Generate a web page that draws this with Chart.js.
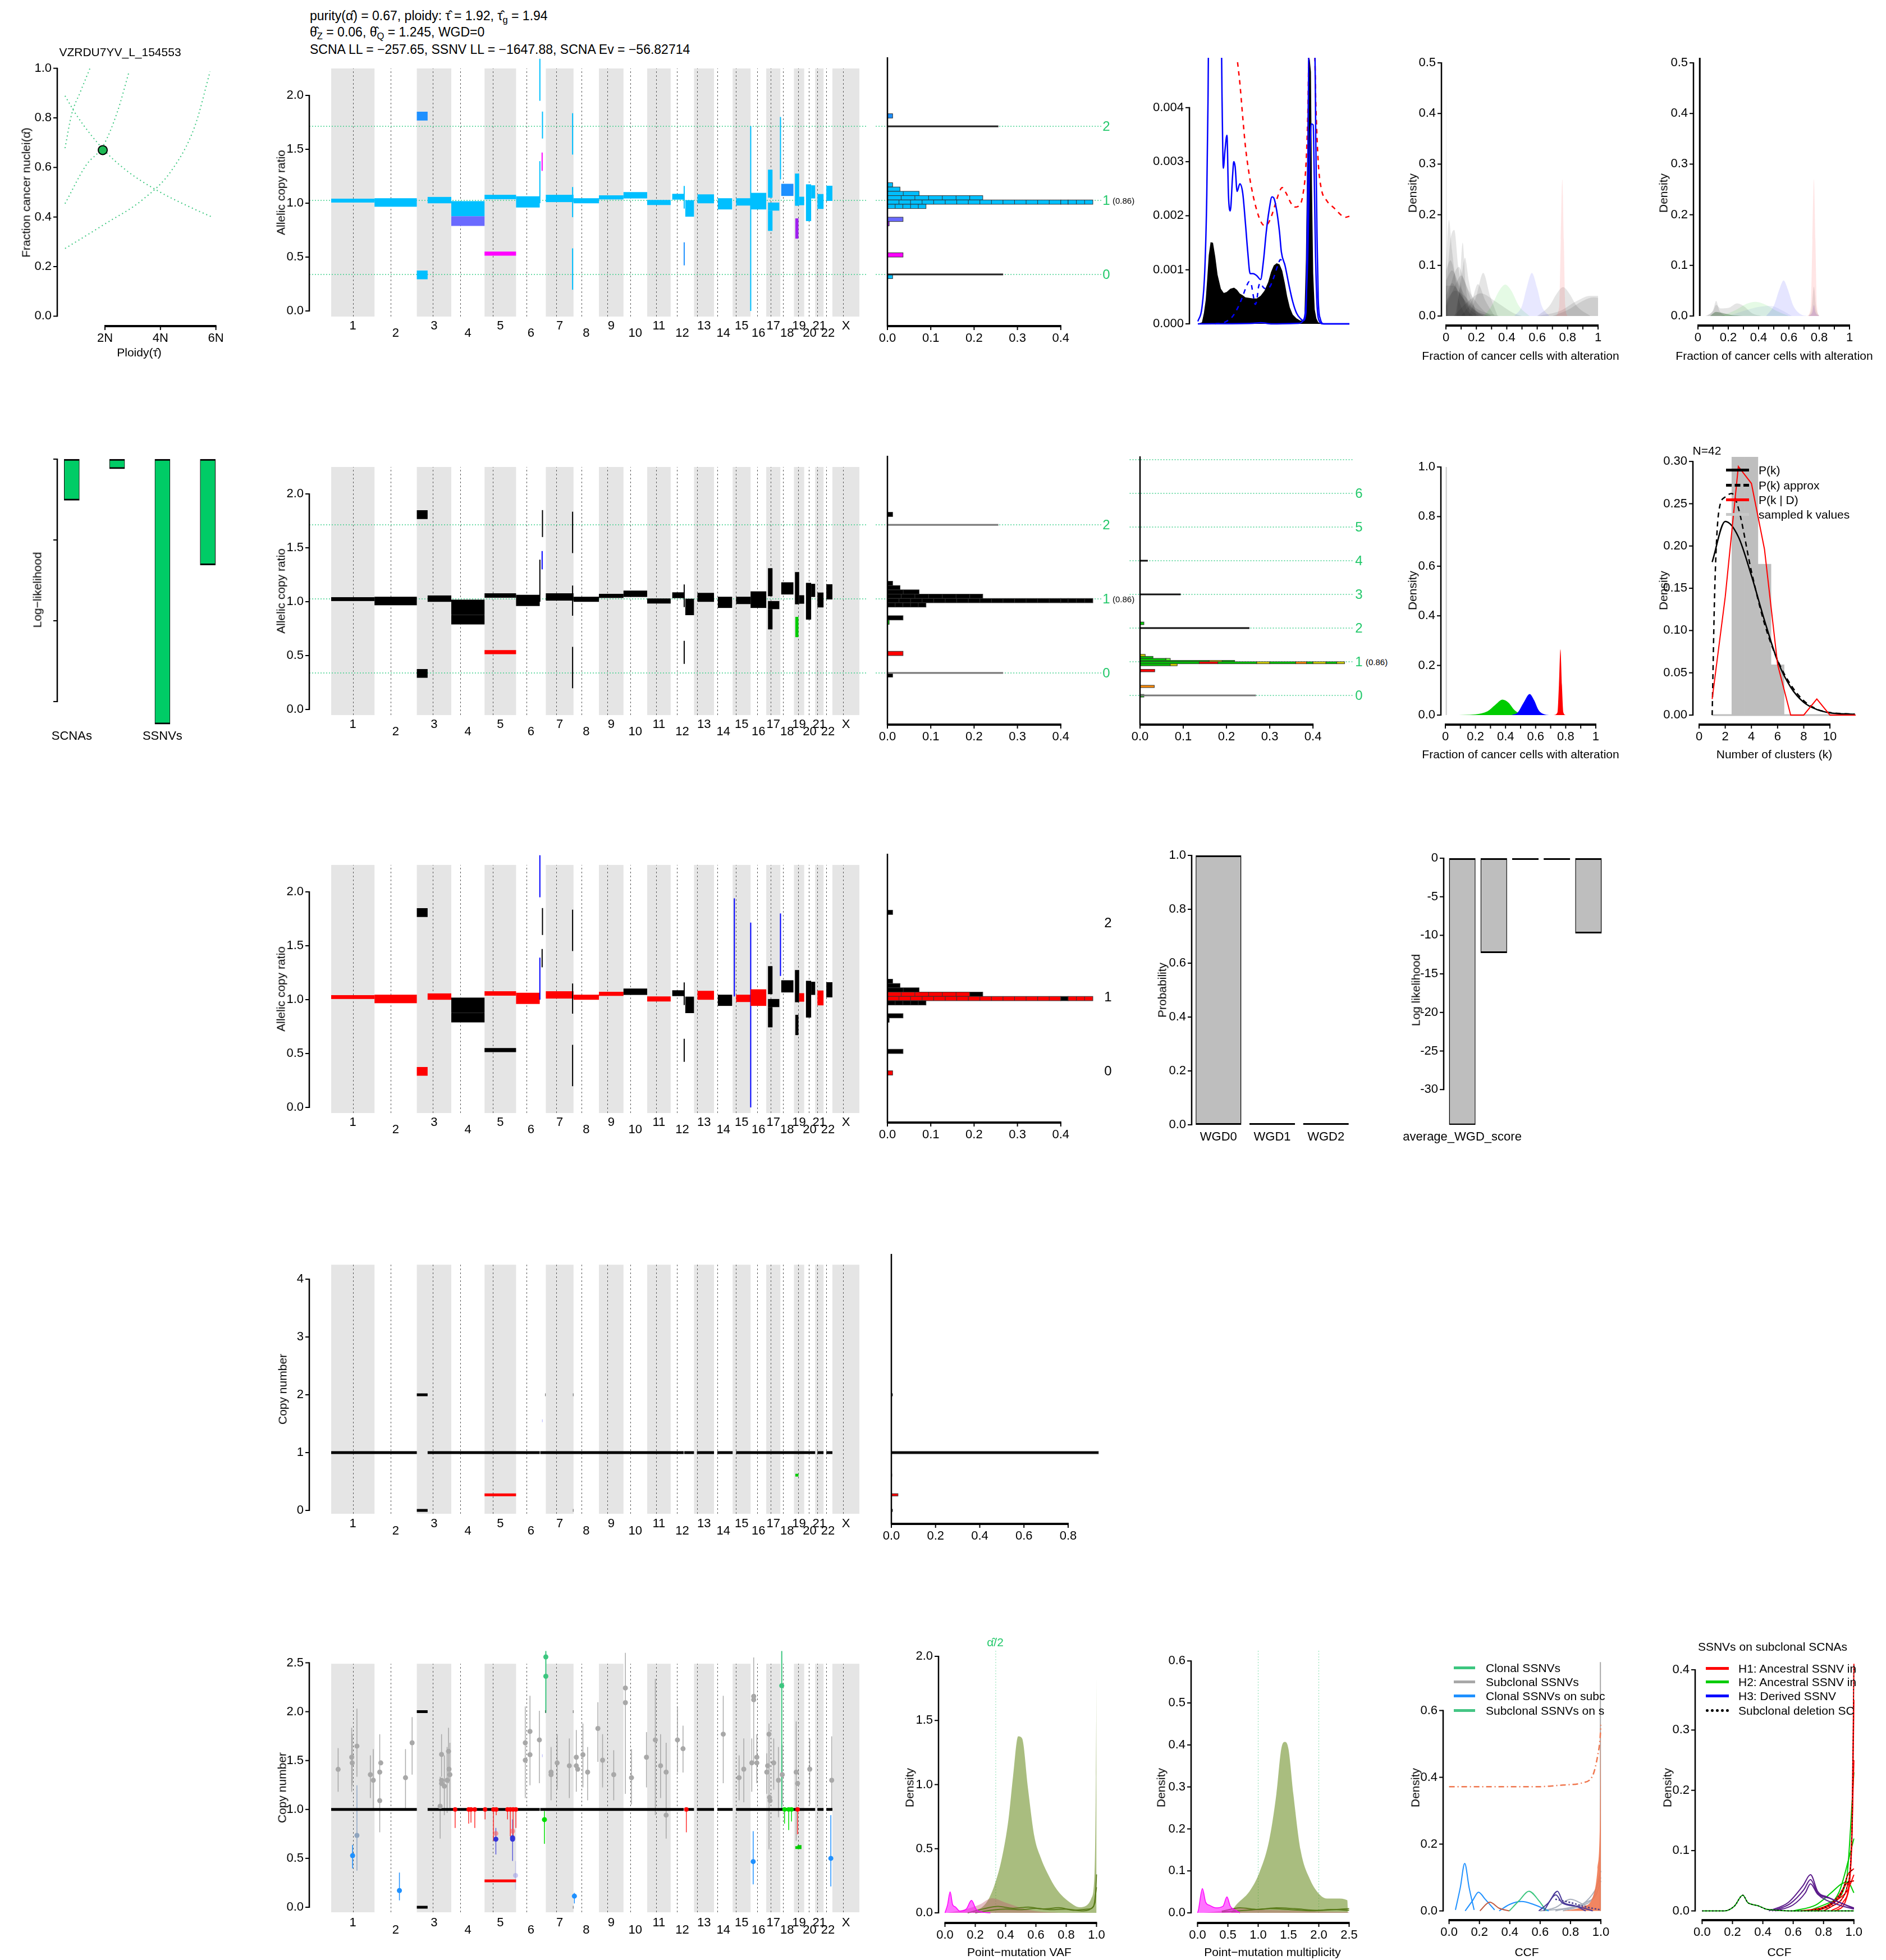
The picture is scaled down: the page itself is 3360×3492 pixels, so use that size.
<!DOCTYPE html>
<html>
<head>
<meta charset="utf-8">
<title>VZRDU7YV_L_154553</title>
<script src="https://cdn.jsdelivr.net/npm/chart.js@4.4.1/dist/chart.umd.min.js"></script>
<style>
  html, body { margin: 0; padding: 0; background: #fff; }
  body { position: relative; width: 3360px; height: 3492px; overflow: hidden;
         font-family: "Liberation Sans", Arial, sans-serif; color: #000; }
  canvas { position: absolute; }
  .t { position: absolute; white-space: nowrap; line-height: 1; }
  .t sub { font-size: 72%; vertical-align: -0.3em; }
  .key { position: absolute; height: 0; }
</style>
</head>
<body>
<script>
// ---------------- data ----------------

// genome layout (Mb)
const chromNames = ['1','2','3','4','5','6','7','8','9','10','11','12','13','14','15','16','17','18','19','20','21','22','X'];
const chromLen = [249,243,198,191,181,171,159,146,141,136,135,134,115,107,103,90,81,78,59,63,48,51,155];
const centromere = [125,93,91,50,48,61,60,45,49,40,53,35,18,18,19,37,24,17,26,28,13,15,60];

// purity / ploidy solution curves
const purityCurves = [
  [[0.56,0.889],[1.01,0.805],[1.94,0.673],[2.76,0.589],[3.90,0.506],[5.03,0.442],[5.86,0.40]],
  [[0.56,0.678],[0.80,0.815],[1.11,0.904],[1.46,1.0]],
  [[0.56,0.454],[1.32,0.609],[1.94,0.688],[2.45,0.825],[2.87,0.987]],
  [[0.56,0.273],[1.94,0.368],[3.38,0.472],[4.41,0.589],[5.24,0.766],[5.79,0.987]]
];
const fitPloidy = 1.92, fitPurity = 0.67;

// allelic copy-ratio segments: chr, start, end, low, high, state in rows 1..3
const acrSegments = [
  [1,0,249,1.006,1.042,'c','k','r'],
  [2,0,243,0.967,1.046,'c','k','r'],
  [3,0,62,1.767,1.849,'d','k','k'],
  [3,0,62,0.294,0.375,'c','k','r'],
  [3,62,198,0.999,1.058,'c','k','r'],
  [4,0,191,0.879,1.019,'c','k','k'],
  [4,0,191,0.789,0.879,'p','k','k'],
  [5,0,181,1.037,1.078,'c','k','r'],
  [5,0,181,0.513,0.551,'m','r','k'],
  [6,0,136,0.960,1.064,'c','k','r'],
  [6,136,137.5,1.95,2.34,'c','-','b'],
  [6,136,137.5,1.00,1.39,'c','k','b'],
  [6,151,152.5,1.60,1.85,'c','k','k'],
  [6,149,150.5,1.30,1.47,'m','b','k'],
  [7,0,159,1.010,1.078,'c','k','r'],
  [7,153,154.5,1.451,1.835,'c','k','k'],
  [7,153,154.5,0.197,0.581,'c','k','k'],
  [7,153,154.5,0.87,1.15,'c','k','k'],
  [8,0,146,0.999,1.046,'c','k','r'],
  [9,0,141,1.035,1.073,'c','k','r'],
  [10,0,136,1.044,1.103,'c','k','k'],
  [11,0,135,0.983,1.030,'c','k','r'],
  [12,9,75,1.033,1.087,'c','k','k'],
  [12,84,134,0.875,1.028,'c','k','k'],
  [12,77,78.5,0.423,0.637,'d','k','k'],
  [12,77,78.5,0.95,1.16,'c','k','k'],
  [13,20,115,0.999,1.082,'c','k','r'],
  [14,22,104,0.942,1.046,'c','k','k'],
  [15,20,103,0.978,1.046,'c','k','r'],
  [15,9,10.5,1.03,1.94,'-','-','b'],
  [16,0,1.5,0.0,1.715,'c','-','b'],
  [16,0,90,0.942,1.096,'c','k','r'],
  [17,10,36,1.051,1.311,'c','k','k'],
  [17,10,36,0.743,0.931,'c','k','k'],
  [17,10,75,0.931,1.006,'c','k','k'],
  [18,0,1.5,1.22,1.80,'c','-','b'],
  [18,5,75,1.067,1.180,'d','k','k'],
  [19,6,30,0.976,1.275,'c','k','k'],
  [19,30,59,0.981,1.060,'c','k','r'],
  [19,8,26,0.671,0.859,'v','g','k'],
  [20,10,40,0.834,1.175,'c','k','k'],
  [20,40,63,1.044,1.166,'c','k','k'],
  [21,13,48,0.947,1.085,'c','k','r'],
  [22,16,51,1.021,1.162,'c','k','k']
];
const acrLevels = [0.339, 1.026, 1.713];
const acrLevelNames = ['0', '1', '2'];
const level1Fraction = '(0.86)';

// copy-ratio histogram: low, high, from, to, segments, state rows 1..3
const acrHist = [
  [1.79,1.83,0,0.012,1,'d','k','k'],
  [1.15,1.19,0,0.012,1,'c','k','k'],
  [1.11,1.15,0,0.029,1,'c','k','k'],
  [1.07,1.11,0,0.073,2,'c','k','k'],
  [1.03,1.07,0,0.190,6,'c','k','r'],
  [1.03,1.07,0.190,0.220,1,'c','k','k'],
  [0.99,1.03,0,0.400,15,'c','k','r'],
  [0.99,1.03,0.400,0.417,1,'c','k','k'],
  [0.99,1.03,0.417,0.474,3,'c','k','r'],
  [0.95,0.99,0,0.089,5,'c','k','k'],
  [0.83,0.87,0,0.036,1,'p','k','k'],
  [0.79,0.83,0,0.004,1,'v','g','k'],
  [0.50,0.54,0,0.036,1,'m','r','k'],
  [0.30,0.34,0,0.012,1,'c','k','r']
];
const acrLevelBars = [[1.713,0.256],[0.339,0.267]];

// row-1 density panels
const dens1Ticks = [0,1,2,3,4];               // x 1e-3
const dens1Hist = [[0,0],[0.027,0.028],[0.040,0.20],[0.052,0.44],[0.062,0.84],[0.072,1.27],[0.084,1.51],[0.100,1.50],[0.115,1.24],[0.130,0.91],[0.152,0.65],[0.171,0.57],[0.190,0.59],[0.214,0.65],[0.239,0.67],[0.258,0.63],[0.277,0.56],[0.296,0.53],[0.314,0.49],[0.339,0.48],[0.364,0.47],[0.389,0.47],[0.414,0.52],[0.439,0.61],[0.464,0.77],[0.483,0.96],[0.501,1.08],[0.520,1.12],[0.539,1.10],[0.557,0.98],[0.574,0.75],[0.589,0.51],[0.607,0.30],[0.626,0.17],[0.651,0.10],[0.676,0.06],[0.695,0.06],[0.703,0.13],[0.713,1.20],[0.721,2.97],[0.728,4.87],[0.738,4.90],[0.746,4.66],[0.753,2.57],[0.761,0.94],[0.771,0.27],[0.782,0.10],[0.794,0.03],[0.813,0],[1,0]];
const dens1Blue = [[0,0.045],[0.027,0.30],[0.046,1.0],[0.059,2.38],[0.067,4.11],[0.071,5.2],[0.155,5.2],[0.160,4.11],[0.168,2.88],[0.179,3.21],[0.192,3.49],[0.202,2.38],[0.214,2.09],[0.229,2.73],[0.237,3.0],[0.246,2.91],[0.259,2.45],[0.277,2.59],[0.296,2.42],[0.314,1.86],[0.329,1.34],[0.345,0.93],[0.364,0.93],[0.389,0.89],[0.414,0.82],[0.433,1.17],[0.451,1.69],[0.470,2.10],[0.489,2.35],[0.501,2.33],[0.520,2.10],[0.539,1.69],[0.551,1.33],[0.576,1.07],[0.601,0.72],[0.626,0.41],[0.651,0.20],[0.676,0.10],[0.695,0.06],[0.713,0.20],[0.723,2.03],[0.729,4.11],[0.733,5.2],[0.772,5.2],[0.778,3.42],[0.786,1.69],[0.794,0.48],[0.807,0.10],[0.832,0],[1,0]];
const dens1Blue2 = [[0,0],[0.364,0.01],[0.414,0.02],[0.489,0],[0.663,0.01],[0.695,0.06],[0.713,0.37],[0.726,1.34],[0.738,3.07],[0.748,3.70],[0.761,3.68],[0.768,2.73],[0.776,1.34],[0.786,0.37],[0.800,0.06],[0.825,0],[1,0]];
const dens1BlueDash = [[0.115,0],[0.177,0.03],[0.227,0.13],[0.264,0.30],[0.296,0.51],[0.320,0.69],[0.339,0.78],[0.352,0.74],[0.364,0.55],[0.379,0.36],[0.389,0.44],[0.401,0.69],[0.414,0.75],[0.433,0.67],[0.451,0.65],[0.476,0.69],[0.501,0.86],[0.526,1.07],[0.545,1.19],[0.564,1.13]];
const dens1RedDash = [[0.262,4.84],[0.277,4.46],[0.296,3.83],[0.314,3.28],[0.339,2.76],[0.364,2.38],[0.389,2.10],[0.414,1.90],[0.439,1.82],[0.464,1.86],[0.489,2.02],[0.514,2.24],[0.539,2.45],[0.557,2.52],[0.582,2.42],[0.613,2.24],[0.638,2.16],[0.670,2.19],[0.695,2.42],[0.713,2.93],[0.726,3.94],[0.734,5.2],[0.769,5.2],[0.778,4.11],[0.794,3.0],[0.813,2.52],[0.850,2.28],[0.900,2.14],[0.950,2.0],[0.969,1.97],[1,1.99]];

const fracTicks = [0,0.1,0.2,0.3,0.4,0.5,0.6,0.7,0.8,0.9,1];
const fracTickLabels = ['0','','0.2','','0.4','','0.6','','0.8','','1'];
const ccfGray = [
  [[0,0.48],[0.004,0.3],[0.008,0.05],[0.015,0]],
  [[0,0.1],[0.02,0.19],[0.04,0.13],[0.08,0.04],[0.13,0]],
  [[0,0.05],[0.03,0.15],[0.055,0.17],[0.08,0.1],[0.13,0.02],[0.18,0]],
  [[0.07,0],[0.09,0.06],[0.11,0.145],[0.13,0.06],[0.16,0]],
  [[0.06,0],[0.1,0.07],[0.125,0.115],[0.15,0.07],[0.2,0]],
  [[0,0.02],[0.05,0.08],[0.085,0.097],[0.12,0.07],[0.2,0.01],[0.25,0]],
  [[0,0.04],[0.04,0.065],[0.08,0.05],[0.15,0.02],[0.25,0]],
  [[0,0.02],[0.06,0.06],[0.1,0.08],[0.15,0.05],[0.25,0.01],[0.3,0]],
  [[0,0.06],[0.05,0.06],[0.1,0.04],[0.2,0.01],[0.3,0]],
  [[0,0.07],[0.04,0.09],[0.09,0.06],[0.18,0.015],[0.28,0]],
  [[0,0.03],[0.06,0.05],[0.12,0.04],[0.2,0.015],[0.35,0]],
  [[0,0.09],[0.03,0.11],[0.07,0.07],[0.14,0.02],[0.22,0]],
  [[0.1,0],[0.17,0.03],[0.21,0.063],[0.26,0.03],[0.32,0]],
  [[0.15,0],[0.2,0.04],[0.245,0.085],[0.29,0.04],[0.34,0]],
  [[0.05,0],[0.15,0.03],[0.23,0.045],[0.32,0.03],[0.45,0.005],[0.5,0]],
  [[0.6,0],[0.68,0.02],[0.73,0.045],[0.77,0.057],[0.81,0.045],[0.86,0.02],[0.95,0]],
  [[0.6,0],[0.75,0.01],[0.85,0.028],[0.95,0.04],[1.0,0.04]],
  [[0.7,0],[0.8,0.012],[0.9,0.03],[0.97,0.037],[1.0,0.036]]
];
const ccfPink = [[0.72,0],[0.745,0.02],[0.755,0.15],[0.765,0.27],[0.775,0.15],[0.785,0.02],[0.80,0]];
const ccfBlue = [[0.45,0],[0.50,0.02],[0.53,0.055],[0.565,0.085],[0.60,0.055],[0.63,0.02],[0.68,0]];
const ccfGreen = [[0.25,0],[0.30,0.02],[0.35,0.05],[0.39,0.062],[0.43,0.05],[0.48,0.02],[0.55,0]];
const ccf2Gray = [
  [[0.06,0],[0.1,0.012],[0.12,0.03],[0.14,0.012],[0.18,0]],
  [[0.05,0],[0.1,0.01],[0.12,0.022],[0.15,0.015],[0.2,0.016],[0.26,0.025],[0.3,0.02],[0.36,0.005],[0.42,0]],
  [[0.73,0],[0.75,0.015],[0.765,0.058],[0.78,0.015],[0.8,0]]
];
const ccf2Green = [[0.15,0],[0.25,0.012],[0.32,0.024],[0.38,0.028],[0.45,0.022],[0.52,0.01],[0.6,0]];
const ccf2Steel = [[0.2,0],[0.3,0.01],[0.4,0.018],[0.48,0.02],[0.55,0.012],[0.62,0]];
const ccf2Blue = [[0.45,0],[0.50,0.02],[0.54,0.055],[0.565,0.07],[0.59,0.055],[0.63,0.02],[0.68,0.003],[0.72,0]];
const ccf2Purple = [[0.73,0],[0.755,0.008],[0.765,0.022],[0.775,0.008],[0.8,0]];
const ccf2Dark = [[0.08,0],[0.12,0.008],[0.16,0.006],[0.22,0.002],[0.3,0]];

// row 2
const llCategories = ['SCNAs', '', 'SSNVs', ''];
const llValues = [-0.51, -0.12, -3.28, -1.31];

// multiplicity histogram (levels): low, high, from, to, state
const multLevels = [0,1,2,3,4,5,6,7];
const multLevelNames = ['0','1','2','3','4','5','6'];
const multHist = [
  [1.16,1.22,0,0.012,'y'],[1.10,1.16,0,0.030,'g'],[1.04,1.10,0,0.060,'g'],[1.04,1.10,0.060,0.070,'l'],
  [1.00,1.04,0,0.160,'g'],[1.00,1.04,0.160,0.190,'y'],[1.00,1.04,0.190,0.219,'g'],
  [0.94,1.00,0,0.137,'g'],[0.94,1.00,0.137,0.180,'r'],[0.94,1.00,0.180,0.270,'g'],[0.94,1.00,0.270,0.300,'y'],
  [0.94,1.00,0.300,0.360,'g'],[0.94,1.00,0.360,0.385,'o'],[0.94,1.00,0.385,0.400,'g'],[0.94,1.00,0.400,0.430,'y'],
  [0.94,1.00,0.430,0.455,'g'],[0.94,1.00,0.455,0.473,'y'],
  [0.88,0.94,0,0.070,'g'],[0.88,0.94,0.070,0.086,'y'],
  [0.70,0.775,0,0.034,'r'],[0.233,0.30,0,0.033,'o'],[-0.05,0.03,0,0.009,'g'],[2.10,2.18,0,0.009,'g']
];
const multLevelBars = [[2,0.253],[0,0.268],[3,0.094],[4,0.018]];

const subGreen = [[0.05,0],[0.2,0.003],[0.28,0.015],[0.33,0.04],[0.38,0.062],[0.42,0.05],[0.46,0.02],[0.5,0.005],[0.55,0]];
const subBlue = [[0.44,0],[0.48,0.01],[0.52,0.05],[0.56,0.085],[0.59,0.06],[0.62,0.02],[0.66,0.003],[0.7,0]];
const subRed = [[0.72,0],[0.745,0.01],[0.755,0.12],[0.765,0.265],[0.775,0.12],[0.785,0.01],[0.8,0]];

const kSamples = 42;
const kBars = [[3,0.33],[4,0.31],[5,0.1786],[6,0.0595]];
const pK = [[1,0.181],[2,0.229],[3,0.211],[4,0.165],[5,0.112],[6,0.064],[7,0.033],[8,0.015],[9,0.0066],[10,0.0027],[11.9,0.001]];
const pKApprox = [[1,0],[1.2,0.15],[1.5,0.24],[2,0.258],[2.5,0.262],[3,0.245],[4,0.17],[5,0.108],[6,0.065],[7,0.036],[8,0.017],[9,0.007],[10,0.003],[11.9,0.001]];
const pKData = [[1,0.019],[2,0.14],[3,0.294],[4,0.274],[5,0.196],[6,0.06],[7,0],[8,0],[9,0.019],[10,0],[11,0],[12,0]];

// row 3
const wgdCategories = ['WGD0', 'WGD1', 'WGD2'];
const wgdProb = [1, 0, 0];
const wgdScoreCategories = ['average_WGD_score', '', '', '', ''];
const wgdScore = [-34.6, -12.3, -0.1, -0.1, -9.76];

// copy-number segments (rows 4-5): chr, start, end, copy number, state
const cnSegments = [
  [1,0,249,1,'k'],[2,0,243,1,'k'],[3,0,62,2,'k'],[3,0,62,0,'k'],[3,62,198,1,'k'],[4,0,191,1,'k'],
  [5,0,181,1,'k'],[5,0,181,0.27,'r'],[6,0,136,1,'k'],[6,139,171,1,'k'],[6,168,170,2,'k'],[6,150,151,1.55,'b'],
  [7,0,159,1,'k'],[7,156,158,2,'k'],[7,156,158,0,'k'],[8,0,146,1,'k'],[9,0,141,1,'k'],[10,0,136,1,'k'],
  [11,0,135,1,'k'],[12,0,75,1,'k'],[12,78,134,1,'k'],[12,76,77,0,'k'],[13,17,115,1,'k'],[14,19,107,1,'k'],
  [15,20,103,1,'k'],[16,0,90,1,'k'],[17,0,81,1,'k'],[18,0,78,1,'k'],[19,0,59,1,'k'],[19,8,26,0.61,'g'],
  [20,0,63,1,'k'],[21,13,48,1,'k'],[22,16,51,1,'k']
];
const cnHist = [[0.98,1.02,0.937,'k'],[0.25,0.29,0.03,'r'],[1.98,2.02,0.005,'k'],[-0.02,0.02,0.005,'k'],[0.59,0.63,0.002,'g']];

// SSNVs: genome Mb, copy number, low, high
const ssnvGray = [
  [40,1.410,1.181,1.628],[118,1.534,1.181,1.835],[121,1.476,1.247,1.770],[148,1.648,1.334,2.031],
  [225,1.356,1.116,1.552],[242,1.299,1.007,1.617],[279,1.382,0.767,1.770],[279,1.090,null,null],
  [285,1.476,null,null],[427,1.325,1.007,1.617],[465,1.682,1.356,1.944],[626,1.033,0.702,1.334],
  [634,1.563,1.334,1.770],[634,1.299,null,null],[634,1.266,null,null],[650,1.238,0.942,1.552],
  [666,1.299,0.964,1.639],[674,1.595,1.268,1.835],[677,1.412,null,null],[682,1.356,1.007,1.682],
  [1115,1.682,1.116,2.053],[1115,1.504,null,null],[1142,1.798,1.247,2.162],[1142,1.560,null,null],
  [1196,1.711,1.268,2.009],[1263,1.382,1.094,1.639],[1263,1.356,null,null],[1298,1.476,1.203,1.770],
  [1368,1.447,1.116,1.726],[1408,1.534,1.181,1.813],[1408,1.447,null,null],[1416,1.412,null,null],
  [1446,1.560,1.225,1.879],[1473,1.382,1.094,1.639],[1532,1.828,1.486,2.096],[1559,1.504,1.225,1.770],
  [1623,1.356,1.094,1.606],[1690,2.242,1.160,2.602],[1690,2.092,null,null],[1725,1.325,1.051,1.617],
  [1811,1.534,1.225,1.791],[1862,1.711,0.942,2.336],[1892,1.447,1.116,1.770],[1924,1.382,0.702,1.682],
  [1924,0.942,null,null],[1989,1.711,1.377,2.053],[2021,1.621,1.377,1.857],[2252,1.770,1.268,2.162],
  [2343,1.325,1.094,1.552],[2370,1.412,1.073,1.726],[2416,1.476,1.181,1.726],[2427,2.157,1.465,2.554],
  [2427,2.122,null,null],[2445,1.534,1.268,1.770],[2445,1.476,null,null],[2502,1.382,1.160,1.574],
  [2507,1.447,null,null],[2515,1.770,0.593,1.879],[2518,1.123,null,null],[2521,1.090,null,null],
  [2542,1.476,1.203,1.726],[2569,1.299,0.920,1.639],[2591,1.356,1.051,1.661],[2671,1.382,0.680,1.900],
  [2679,1.266,null,null],[2749,1.412,1.051,1.726],[2875,1.299,1.007,1.748]
];
const ssnvSlate = [[148,0.735,0.375,1.247]];
const ssnvBlue = [[123,0.528,0.397,0.637],[392,0.171,0.070,0.354],[1397,0.114,0.038,0.147],[2424,0.467,0.234,0.778],[2870,0.500,0.212,0.942]];
const ssnvDeep = [[946,0.696,0.539,0.811],[1042,0.696,0.473,0.898],[1042,0.71,null,null]];
const ssnvPink = [[946,0.754,null,null],[1042,0.778,null,null]];
const ssnvLilac = [[1059,0.325,0.179,0.473]];
const ssnvSea = [[1233,2.560,1.987,2.62],[1233,2.362,null,null],[2588,2.266,0.996,2.62]];
const ssnvLime = [[1225,0.896,0.648,0.985],[2690,0.615,null,null]];
const ssnvRedDrops = [[712,0.811],[790,0.855],[803,0.866],[825,0.811],[884,0.898],[932,0.680],[948,0.942],[1013,0.898],[1029,0.724],[1045,0.724],[1061,0.811],[2040,0.767],[2679,0.746]];
const ssnvGreenDrops = [[2604,0.855],[2628,0.789],[2644,0.877]];

// row 5 densities
const halfPurity = 0.335;
const vafOlive = [[0.184,0.014],[0.248,0.047],[0.291,0.114],[0.333,0.238],[0.376,0.430],[0.419,0.729],[0.449,1.061],[0.483,1.376],[0.509,1.360],[0.547,0.978],[0.590,0.595],[0.632,0.430],[0.675,0.313],[0.739,0.180],[0.825,0.081],[0.889,0.044],[0.932,0.056],[0.966,0.114],[0.987,0.313],[0.996,1.061],[1.0,1.84]];
const vafRosy = [[0.013,0],[0.141,0.03],[0.226,0.063],[0.312,0.114],[0.397,0.081],[0.526,0.031],[0.654,0.006],[0.75,0]];
const vafMagenta = [[0,0],[0.017,0.063],[0.034,0.164],[0.051,0.063],[0.068,0.047],[0.098,0.014],[0.141,0.03],[0.175,0.097],[0.205,0.03],[0.248,0.006],[0.3,0]];
const vafDark = [
  [[0.15,0],[0.25,0.03],[0.35,0.05],[0.45,0.035],[0.55,0.045],[0.65,0.03],[0.75,0.04],[0.85,0.02],[0.95,0.03],[0.99,0.08],[1.0,0.3]],
  [[0.2,0],[0.3,0.02],[0.4,0.03],[0.5,0.025],[0.6,0.035],[0.7,0.025],[0.8,0.03],[0.9,0.015],[0.98,0.05],[1.0,0.2]]
];
const multLines = [1, 2];
const multOlive = [[0.55,0],[0.62,0.016],[0.86,0.052],[1.02,0.096],[1.18,0.172],[1.30,0.283],[1.38,0.39],[1.44,0.407],[1.50,0.39],[1.58,0.283],[1.70,0.149],[1.86,0.078],[2.02,0.043],[2.14,0.034],[2.30,0.034],[2.47,0.03],[2.48,0]];
const multMagenta = [[0,0],[0.014,0.007],[0.08,0.058],[0.135,0.025],[0.2,0.018],[0.3,0.012],[0.42,0.016],[0.485,0.038],[0.54,0.016],[0.62,0.007],[0.7,0]];
const multRosy = [[0.1,0],[0.4,0.005],[0.7,0.012],[1.0,0.008],[1.4,0.006],[1.8,0.004],[2.5,0.002]];
const multDark = [
  [[0.4,0.004],[0.7,0.012],[1.0,0.008],[1.3,0.012],[1.6,0.01],[2.0,0.006],[2.5,0.01]],
  [[0.4,0.002],[0.8,0.006],[1.2,0.01],[1.5,0.008],[1.9,0.005],[2.2,0.008],[2.5,0.006]]
];
const ssnvCcfBlue = [
  [[0.042,0.003],[0.074,0.070],[0.103,0.142],[0.132,0.070],[0.165,0.003]],
  [[0.106,0],[0.155,0.031],[0.194,0.056],[0.236,0.036],[0.30,0.003]],
  [[0.33,0],[0.397,0.019],[0.478,0.028],[0.559,0.019],[0.656,0]]
];
const ssnvCcfSea = [[0.397,0],[0.462,0.031],[0.526,0.059],[0.591,0.031],[0.64,0]];
const ssnvCcfBrown = [[0.203,0],[0.268,0.026],[0.33,0.008],[0.397,0]];
const ssnvCcfPurple = [
  [[0.591,0],[0.656,0.025],[0.714,0.059],[0.753,0.025],[0.818,0.017],[0.9,0]],
  [[0.624,0],[0.704,0.048],[0.745,0.024],[0.85,0.013],[0.946,0]]
];
const ssnvCcfGray = [
  [[0.6,0],[0.7,0.01],[0.8,0.035],[0.88,0.02],[0.95,0]],
  [[0.6,0],[0.8,0.01],[0.9,0.025],[0.97,0.05],[1.0,0.09]],
  [[0.7,0],[0.85,0.015],[0.95,0.04],[1.0,0.12]],
  [[0.75,0],[0.88,0.02],[0.96,0.06],[1.0,0.1]]
];
const ssnvCcfCoral = [[0.753,0],[0.882,0.013],[0.947,0.042],[0.978,0.126],[0.995,0.294],[1.0,0.574]];
const ssnvCcfDashDot = [[0,0.372],[0.591,0.372],[0.753,0.377],[0.882,0.384],[0.947,0.406],[0.978,0.462],[0.995,0.518],[1.0,0.557]];
const ssnvCcfSlate = [[0.7,0.035],[0.8,0.025],[0.9,0.012],[1.0,0.003]];
const subCcfGreen = [[0,0],[0.148,0.0001],[0.213,0.008],[0.268,0.026],[0.30,0.014],[0.326,0.011],[0.374,0.008],[0.42,0.003],[0.472,0.0015],[0.6,0],[1,0]];
const subCcfPurple = [
  [[0.44,0],[0.568,0.014],[0.665,0.042],[0.714,0.060],[0.762,0.032],[0.827,0.023],[0.924,0.012],[1.0,0.005]],
  [[0.46,0],[0.58,0.012],[0.67,0.035],[0.714,0.052],[0.76,0.03],[0.85,0.02],[1.0,0.004]],
  [[0.48,0],[0.6,0.01],[0.68,0.03],[0.714,0.045],[0.76,0.028],[0.9,0.01],[1.0,0.003]]
];
const subCcfRed = [
  [[0.8,0],[0.857,0.008],[0.922,0.02],[0.954,0.039],[0.987,0.132],[1.0,0.41]],
  [[0.75,0],[0.85,0.01],[0.92,0.03],[0.96,0.06],[1.0,0.07]],
  [[0.7,0],[0.82,0.008],[0.9,0.025],[0.95,0.045],[1.0,0.05]],
  [[0.85,0],[0.93,0.015],[0.97,0.05],[0.99,0.15],[1.0,0.35]],
  [[0.88,0],[0.95,0.02],[0.98,0.08],[1.0,0.25]],
  [[0.65,0],[0.8,0.006],[0.9,0.02],[0.96,0.035],[1.0,0.06]]
];
const subCcfGreenLines = [
  [[0.6,0],[0.75,0.01],[0.85,0.03],[0.92,0.045],[0.96,0.048],[1.0,0.03]],
  [[0.7,0],[0.85,0.015],[0.95,0.05],[1.0,0.23]],
  [[0.75,0],[0.9,0.03],[0.97,0.09],[1.0,0.12]]
];

// ---------------- drawing ----------------
const palette = { c: '#00BFFF', d: '#1E90FF', p: '#6A6AFF', m: '#FF00FF', v: '#A020F0', k: '#000000',
                  r: '#FF0000', g: '#00CC00', b: '#0000FF', y: '#D8D800', o: '#FF8C00', l: '#66FF33' };
Chart.defaults.font.family = '"Liberation Sans", Arial, sans-serif';
Chart.defaults.color = '#000';

const chromStart = [];
chromLen.reduce((acc, len, i) => { chromStart[i] = acc; return acc + len; }, 0);
const gpos = (c, mb) => chromStart[c - 1] + mb;
const chromMid = chromLen.map((len, i) => chromStart[i] + len / 2);
const chromTickLabels = chromNames.map((n, i) => (i % 2 === 0 ? n : ['', n]));
const f1 = v => v.toFixed(1), f2 = v => v.toFixed(2);

function axis(s, horiz, size) {
  const cfg = {
    type: s.type || 'linear',
    min: s.min, max: s.max,
    offset: !!s.offset,
    grid: { display: false, drawTicks: false },
    border: { display: false },
    ticks: {
      display: !!(s.ticks || s.type === 'category') && !s.hideLabels,
      autoSkip: false, maxRotation: 0, minRotation: 0,
      padding: s.pad ?? (horiz ? 9 : 10),
      font: { size: s.fs || 22, lineHeight: s.lh || 1.2 },
      color: '#000',
      callback: function (v, i) { return s.labels ? s.labels[i] : (s.fmt ? s.fmt(v) : this.getLabelForValue(v)); }
    },
    afterFit(sc) {
      if (horiz) sc.height = size; else sc.width = size;
      sc.paddingLeft = sc.paddingRight = sc.paddingTop = sc.paddingBottom = 0;
    }
  };
  if (s.ticks && s.type !== 'category') cfg.afterBuildTicks = sc => { sc.ticks = s.ticks.map(v => ({ value: v })); };
  return cfg;
}

// R style axis: line only between first and last tick, small outward tick marks
function rAxes(sx, sy) {
  return {
    id: 'rAxes',
    afterDraw(chart) {
      const { ctx, chartArea: a } = chart;
      const seg = (x0, y0, x1, y1) => { ctx.beginPath(); ctx.moveTo(x0, y0); ctx.lineTo(x1, y1); ctx.stroke(); };
      ctx.save();
      ctx.strokeStyle = '#000';
      if (sx && sx.line) {
        const s = chart.scales.x, y = a.bottom + (sx.off || 0);
        ctx.lineWidth = sx.lw || 4;
        seg(s.getPixelForValue(sx.line[0]) - 1, y, s.getPixelForValue(sx.line[1]) + 1, y);
        ctx.lineWidth = 2;
        if (sx.marks !== false) (sx.ticks || []).forEach(v => { const p = s.getPixelForValue(v); seg(p, y, p, y + 7); });
      }
      if (sy && sy.line) {
        const s = chart.scales.y, x = a.left + (sy.off || 0);
        ctx.lineWidth = sy.lw || 2.5;
        seg(x, s.getPixelForValue(sy.line[0]) + 1, x, s.getPixelForValue(sy.line[1]) - 1);
        ctx.lineWidth = 2;
        if (sy.marks !== false) (sy.ticks || []).forEach(v => { const p = s.getPixelForValue(v); seg(x, p, x - 7, p); });
      }
      ctx.restore();
    }
  };
}

// rectangles and guide lines placed through the chart scales
function paintItems(chart, items) {
  if (!items || !items.length) return;
  const { ctx, chartArea: a, scales: { x, y } } = chart;
  ctx.save();
  ctx.beginPath();
  ctx.rect(a.left, a.top, a.right - a.left, a.bottom - a.top);
  ctx.clip();
  for (const it of items) {
    if (it.kind === 'vline') {
      const px = Math.round(x.getPixelForValue(it.x)) + 0.5;
      ctx.strokeStyle = it.color; ctx.lineWidth = it.lw || 1; ctx.setLineDash(it.dash || []);
      ctx.beginPath(); ctx.moveTo(px, y.getPixelForValue(it.y0)); ctx.lineTo(px, y.getPixelForValue(it.y1)); ctx.stroke();
      ctx.setLineDash([]);
      continue;
    }
    const x0 = x.getPixelForValue(it.x0), x1 = x.getPixelForValue(it.x1);
    const y0 = y.getPixelForValue(it.y0), y1 = y.getPixelForValue(it.y1);
    let L = Math.min(x0, x1), w = Math.abs(x1 - x0);
    const T = Math.min(y0, y1), h = Math.abs(y1 - y0);
    if (it.minW && w < it.minW) { L -= (it.minW - w) / 2; w = it.minW; }
    if (it.fill) { ctx.fillStyle = it.fill; ctx.fillRect(L, T, w, h); }
    if (it.stroke) {
      ctx.strokeStyle = it.stroke; ctx.lineWidth = it.lw || 1;
      ctx.strokeRect(L, T, w, h);
      for (let k = 1; k < (it.cells || 1); k++) {
        const cx = L + w * k / it.cells;
        ctx.beginPath(); ctx.moveTo(cx, T); ctx.lineTo(cx, T + h); ctx.stroke();
      }
    }
  }
  ctx.restore();
}
const layers = (under, over) => ({
  id: 'layers',
  beforeDatasetsDraw(c) { paintItems(c, under); },
  afterDatasetsDraw(c) { paintItems(c, over); }
});

function panel(p) {
  const ML = p.ml ?? 110, MR = p.mr ?? 12, MT = p.mt ?? 14, MB = p.mb ?? 70;
  const cv = document.createElement('canvas');
  cv.width = p.r - p.l + ML + MR;
  cv.height = p.b - p.t + MT + MB;
  cv.style.left = (p.l - ML) + 'px';
  cv.style.top = (p.t - MT) + 'px';
  document.body.appendChild(cv);
  return new Chart(cv, {
    type: p.type || 'line',
    // first dataset is painted last, so list bottom layers first and flip
    data: { labels: p.labels, datasets: (p.datasets || []).slice().reverse() },
    options: {
      responsive: false,
      animation: false,
      devicePixelRatio: 1,
      layout: { autoPadding: false, padding: { left: 0, right: MR, top: MT, bottom: 0 } },
      elements: { point: { radius: 0 } },
      scales: { x: axis(p.x || {}, true, MB), y: axis(p.y || {}, false, ML) },
      plugins: { legend: { display: false }, tooltip: { enabled: false } }
    },
    plugins: [layers(p.under, p.over), rAxes(p.x, p.y)]
  });
}

const line = (pts, o) => Object.assign({
  data: pts.map(([x, y]) => ({ x, y })), pointRadius: 0, borderWidth: 2, fill: false,
  cubicInterpolationMode: 'monotone'
}, o);
const area = (pts, color, o) => line(pts, Object.assign({ fill: 'origin', backgroundColor: color, borderColor: 'rgba(0,0,0,0)', borderWidth: 0 }, o));
const straight = (pts, o) => line(pts, Object.assign({ cubicInterpolationMode: 'default', tension: 0 }, o));
const hLevel = (x0, x1, v) => straight([[x0, v], [x1, v]], { borderColor: '#3FD08C', borderWidth: 1.5, borderDash: [2, 3], clip: false });

// broken-line dataset: one sub path per item, separated by gaps
function pieces(list, toPts, o) {
  const data = [];
  list.forEach(it => { toPts(it).forEach(([x, y]) => data.push({ x, y })); data.push({ x: toPts(it)[0][0], y: null }); });
  return Object.assign({ data, pointRadius: 0, borderWidth: 2, fill: false, spanGaps: false, tension: 0 }, o);
}

function label(html, x, y, o = {}) {
  const d = document.createElement('div');
  d.className = 't';
  d.innerHTML = html;
  d.style.left = x + 'px';
  d.style.top = y + 'px';
  d.style.fontSize = (o.size || 21) + 'px';
  if (o.color) d.style.color = o.color;
  d.style.transform = 'translate(' + (o.left ? '0' : '-50%') + ',-50%)' + (o.rot ? ' rotate(-90deg)' : '');
  document.body.appendChild(d);
}
function key(x0, x1, y, color, style, w) {
  const d = document.createElement('div');
  d.className = 'key';
  d.style.left = x0 + 'px';
  d.style.width = (x1 - x0) + 'px';
  d.style.top = (y - w / 2) + 'px';
  d.style.borderTop = w + 'px ' + style + ' ' + color;
  document.body.appendChild(d);
}

function genomeUnder(lo, hi) {
  const items = [];
  chromLen.forEach((len, i) => { if (i % 2 === 0) items.push({ x0: chromStart[i], x1: chromStart[i] + len, y0: lo, y1: hi, fill: '#E5E5E5' }); });
  chromLen.forEach((len, i) => items.push({ kind: 'vline', x: chromStart[i] + centromere[i], y0: lo, y1: hi, color: '#555', dash: [3, 4], lw: 1 }));
  return items;
}
const genomeX = pad => ({ min: -125.7, max: 3079, ticks: chromMid, labels: chromTickLabels, pad, lh: '13px' });

// ---- header ----
label('purity(α̂) = 0.67, ploidy: τ̂ = 1.92, τ̂<sub>g</sub> = 1.94', 552, 31, { left: true, size: 23 });
label('θ̂<sub>Z</sub> = 0.06, θ̂<sub>Q</sub> = 1.245, WGD=0', 552, 60, { left: true, size: 23 });
label('SCNA LL = −257.65, SSNV LL = −1647.88, SCNA Ev = −56.82714', 552, 88, { left: true, size: 23 });

// ---- row 1: purity / ploidy ----
panel({ l: 102, r: 396, t: 104, b: 581,
  x: { min: 0.28, max: 6.23, ticks: [2, 4, 6], labels: ['2N', '4N', '6N'], line: [2, 6] },
  y: { min: -0.04, max: 1.04, ticks: [0, 0.2, 0.4, 0.6, 0.8, 1], fmt: f1, line: [0, 1] },
  datasets: [
    ...purityCurves.map(c => line(c, { borderColor: '#3CC77F', borderDash: [2, 5], borderWidth: 2 })),
    { data: [{ x: fitPloidy, y: fitPurity }], showLine: false, pointRadius: 8, pointBackgroundColor: '#1DB954', pointBorderColor: '#000', pointBorderWidth: 2 }
  ] });
label('VZRDU7YV_L_154553', 214, 92);
label('Fraction cancer nuclei(α̂)', 46, 343, { rot: true });
label('Ploidy(τ̂)', 248, 627);

// ---- rows 1-3: allelic copy ratio genome + histogram ----
[0, 710, 1419].forEach((dy, row) => {
  const rowLevels = row < 2;
  panel({ l: 551, r: 1545, t: 103 + dy, b: 564 + dy, mb: 60,
    x: genomeX(10.5),
    y: { min: -0.052, max: 2.349, ticks: [0, 0.5, 1, 1.5, 2], fmt: f1, line: [0, 2] },
    under: genomeUnder(-0.052, 2.25),
    over: acrSegments.filter(s => s[5 + row] !== '-').map(s => ({
      x0: gpos(s[0], s[1]), x1: gpos(s[0], s[2]), y0: s[3], y1: s[4], fill: palette[s[5 + row]], minW: 2 })),
    datasets: rowLevels ? acrLevels.map(v => hLevel(-125.7, 3079, v)) : [] });

  const bars = acrHist.map(h => ({ x0: h[2], x1: h[3], y0: h[0], y1: h[1], fill: palette[h[5 + row]], stroke: '#333', lw: 1, cells: h[4] }));
  if (rowLevels) acrLevelBars.forEach(([v, w]) => bars.push({ x0: 0, x1: w, y0: v - 0.008, y1: v + 0.008, fill: row === 0 ? '#222' : '#777' }));
  panel({ l: 1581, r: 1962, t: 103 + dy, b: 581 + dy,
    x: { min: 0, max: 0.4935, ticks: [0, 0.1, 0.2, 0.3, 0.4], fmt: f1, line: [0, 0.4] },
    y: { min: -0.1406, max: 2.349, line: [-0.1406, 2.349], marks: false },
    over: bars,
    datasets: rowLevels ? acrLevels.map(v => hLevel(-0.027, 0.4935, v)) : [] });

  const lc = rowLevels ? '#22C86A' : '#000';
  acrLevels.forEach((v, i) => {
    const py = 554 + dy - v * 192;
    label(acrLevelNames[i], rowLevels ? 1971 : 1974, py, { size: 24, color: lc });
    if (i === 1 && rowLevels) label(level1Fraction, 1982, py, { size: 15, left: true });
  });
  label('Allelic copy ratio', 500, 343 + dy, { rot: true });
});

// ---- row 1: density of copy ratio ----
panel({ l: 2119, r: 2410, t: 103, b: 592,
  x: { min: -0.0556, max: 1.022 },
  y: { min: -0.156, max: 4.922, ticks: dens1Ticks, fmt: v => (v / 1000).toFixed(3), line: [0, 4] },
  datasets: [
    area(dens1Hist, '#000', { cubicInterpolationMode: 'default' }),
    line(dens1BlueDash, { borderColor: '#0000FF', borderWidth: 2.5, borderDash: [8, 8] }),
    line(dens1RedDash, { borderColor: '#FF0000', borderWidth: 2.5, borderDash: [8, 8] }),
    line(dens1Blue2, { borderColor: '#0000FF', borderWidth: 2.5 }),
    line(dens1Blue, { borderColor: '#0000FF', borderWidth: 2.5 })
  ] });

// ---- row 1: CCF densities ----
panel({ l: 2568, r: 2855, t: 103, b: 580,
  x: { min: -0.0295, max: 1.0295, ticks: fracTicks, labels: fracTickLabels, line: [0, 1] },
  y: { min: -0.01885, max: 0.51, ticks: [0, 0.1, 0.2, 0.3, 0.4, 0.5], fmt: f1, line: [0, 0.5] },
  datasets: [
    ...ccfGray.map(c => area(c, 'rgba(0,0,0,0.1)')),
    area(ccfGreen, 'rgba(0,205,0,0.1)'),
    area(ccfBlue, 'rgba(0,0,255,0.09)'),
    area(ccfPink, 'rgba(255,0,0,0.1)')
  ] });
label('Density', 2516, 344, { rot: true });
label('Fraction of cancer cells with alteration', 2709, 633);

panel({ l: 3017, r: 3303, t: 103, b: 580,
  x: { min: -0.0296, max: 1.0296, ticks: fracTicks, labels: fracTickLabels, line: [0, 1] },
  y: { min: -0.01885, max: 0.51, ticks: [0, 0.1, 0.2, 0.3, 0.4, 0.5], fmt: f1, line: [0, 0.5] },
  datasets: [
    ...ccf2Gray.map(c => area(c, 'rgba(0,0,0,0.1)')),
    area(ccf2Green, 'rgba(0,205,0,0.1)'),
    area(ccf2Steel, 'rgba(70,110,200,0.1)'),
    area(ccf2Blue, 'rgba(0,0,255,0.1)'),
    area(ccfPink, 'rgba(255,0,0,0.1)'),
    area(ccf2Purple, 'rgba(90,0,170,0.15)'),
    area(ccf2Dark, 'rgba(0,60,0,0.3)'),
    straight([[0.012, 0], [0.012, 0.52]], { borderColor: '#000', borderWidth: 3 })
  ] });
label('Density', 2963, 344, { rot: true });
label('Fraction of cancer cells with alteration', 3161, 633);

// ---- row 2: log-likelihood bars ----
panel({ type: 'bar', l: 102, r: 396, t: 811, b: 1293,
  x: { min: 0.68, max: 4.32, ticks: [1, 2, 3, 4], labels: llCategories, pad: 6 },
  y: { min: -3.299, max: 0.0486, ticks: [0, -1, -2, -3], hideLabels: true, line: [-3, 0] },
  datasets: [{ data: llValues.map((v, i) => ({ x: i + 1, y: v })), backgroundColor: '#00CC66', borderColor: '#000',
    borderWidth: { top: 3, bottom: 3, left: 1, right: 1 }, borderSkipped: false, barThickness: 27 }] });
label('Log−likelihood', 66, 1051, { rot: true });

// ---- row 2: multiplicity histogram ----
{
  const bars = multHist.map(h => ({ x0: h[2], x1: h[3], y0: h[0], y1: h[1], fill: palette[h[4]], stroke: '#333', lw: 1 }));
  multLevelBars.forEach(([v, w]) => bars.push({ x0: 0, x1: w, y0: v - 0.025, y1: v + 0.025, fill: v === 0 ? '#777' : '#111' }));
  panel({ l: 2031, r: 2410, t: 814, b: 1291,
    x: { min: 0, max: 0.492, ticks: [0, 0.1, 0.2, 0.3, 0.4], fmt: f1, line: [0, 0.4] },
    y: { min: -0.867, max: 7.083, line: [-0.867, 7.083], marks: false },
    over: bars,
    datasets: multLevels.map(v => hLevel(-0.024, 0.492, v)) });
  multLevelNames.forEach((n, i) => label(n, 2421, 1239 - 60 * i, { size: 24, color: '#22C86A' }));
  label(level1Fraction, 2433, 1179, { size: 15, left: true });
}

// ---- row 2: subclonal density ----
panel({ l: 2567, r: 2855, t: 822, b: 1291,
  x: { min: -0.0299, max: 1.045, ticks: fracTicks, labels: fracTickLabels, line: [0, 1] },
  y: { min: -0.0385, max: 1.0226, ticks: [0, 0.2, 0.4, 0.6, 0.8, 1], fmt: f1, line: [0, 1] },
  datasets: [
    straight([[0.006, 0], [0.006, 1.0]], { borderColor: '#C8C8C8', borderWidth: 2 }),
    area(subGreen, '#00CC00'),
    area(subBlue, '#0000FF'),
    area(subRed, '#FF0000')
  ] });
label('Density', 2516, 1052, { rot: true });
label('Fraction of cancer cells with alteration', 2709, 1343);

// ---- row 2: number of clusters ----
panel({ l: 3016, r: 3306, t: 814, b: 1291,
  x: { min: -0.472, max: 11.97, ticks: [0, 2, 4, 6, 8, 10], fmt: v => String(v), line: [0, 10] },
  y: { min: -0.01129, max: 0.3054, ticks: [0, 0.05, 0.1, 0.15, 0.2, 0.25, 0.3], fmt: f2, line: [0, 0.3] },
  datasets: [
    { type: 'bar', data: kBars.map(([x, y]) => ({ x, y })), backgroundColor: '#BEBEBE', borderWidth: 0, barPercentage: 1, categoryPercentage: 1 },
    straight([[1, 0], [11.9, 0]], { borderColor: '#BEBEBE', borderWidth: 3 }),
    line(pKApprox, { borderColor: '#000', borderWidth: 2.5, borderDash: [9, 7] }),
    line(pK, { borderColor: '#000', borderWidth: 2.5 }),
    straight(pKData, { borderColor: '#FF0000', borderWidth: 2 })
  ] });
label('N=' + kSamples, 3041, 802);
label('Density', 2963, 1052, { rot: true });
label('Number of clusters (k)', 3161, 1343);
[['P(k)', '#000', 'solid'], ['P(k) approx', '#000', 'dashed'], ['P(k | D)', '#FF0000', 'solid'], ['sampled k values', '#C8C8C8', 'solid']]
  .forEach(([t, c, s], i) => { const y = [837, 864, 890, 916][i]; key(3075, 3116, y, c, s, 5); label(t, 3133, y, { left: true }); });

// ---- row 3: WGD ----
panel({ type: 'bar', l: 2123, r: 2410, t: 1518, b: 2004, labels: wgdCategories,
  x: { type: 'category', offset: true, pad: 9 },
  y: { min: 0, max: 1.0125, ticks: [0, 0.2, 0.4, 0.6, 0.8, 1], fmt: f1, line: [0, 1] },
  datasets: [{ data: wgdProb, backgroundColor: '#BEBEBE', borderColor: '#000', borderWidth: { top: 3, bottom: 3, left: 1.5, right: 1.5 },
    borderSkipped: false, barPercentage: 0.85, categoryPercentage: 1, minBarLength: 3 }] });
label('Probability', 2070, 1764, { rot: true });

panel({ type: 'bar', l: 2577, r: 2858, t: 1520, b: 2004, labels: wgdScoreCategories,
  x: { type: 'category', offset: true, pad: 9 },
  y: { min: -34.57, max: 0.655, ticks: [0, -5, -10, -15, -20, -25, -30], fmt: v => String(v), line: [-30, 0], off: -5, pad: 15 },
  datasets: [{ data: wgdScore, backgroundColor: '#BEBEBE', borderColor: '#000', borderWidth: { top: 3, bottom: 3, left: 1.5, right: 1.5 },
    borderSkipped: false, barPercentage: 0.84, categoryPercentage: 1, minBarLength: 3 }] });
label('Log likelihood', 2522, 1764, { rot: true });

// ---- rows 4-5: copy number ----
const cnLines = (w) => ['k', 'r', 'g', 'b'].map(cat => pieces(cnSegments.filter(s => s[4] === cat),
  s => [[gpos(s[0], s[1]), s[3]], [gpos(s[0], s[2]), s[3]]], { borderColor: palette[cat], borderWidth: w, borderCapStyle: 'butt' }));

panel({ l: 551, r: 1545, t: 2235, b: 2697, mb: 60,
  x: genomeX(11.5),
  y: { min: -0.058, max: 4.427, ticks: [0, 1, 2, 3, 4], fmt: v => String(v), line: [0, 4] },
  under: genomeUnder(-0.058, 4.25),
  datasets: cnLines(5) });
label('Copy number', 503, 2475, { rot: true });

panel({ l: 1588, r: 1962, t: 2235, b: 2715,
  x: { min: 0, max: 0.95, ticks: [0, 0.2, 0.4, 0.6, 0.8], fmt: f1, line: [0, 0.8] },
  y: { min: -0.233, max: 4.427, line: [-0.233, 4.427], marks: false },
  over: cnHist.map(h => ({ x0: 0, x1: h[2], y0: h[0], y1: h[1], fill: palette[h[3]], stroke: '#333', lw: 1 })) });

const bars5 = (list, color, w) => pieces(list.filter(p => p[2] !== null && p[2] !== undefined), p => [[p[0], p[2]], [p[0], p[3]]], { borderColor: color, borderWidth: w || 1.5 });
const pts5 = (list, color, r, style) => ({ data: list.map(p => ({ x: p[0], y: p[1] })), showLine: false, pointRadius: r || 4.5,
  pointBackgroundColor: color, pointBorderWidth: 0, pointStyle: style || 'circle' });

panel({ l: 551, r: 1545, t: 2940, b: 3407, mb: 60,
  x: genomeX(12),
  y: { min: -0.0517, max: 2.629, ticks: [0, 0.5, 1, 1.5, 2, 2.5], fmt: f1, line: [0, 2.5] },
  under: genomeUnder(-0.0517, 2.49),
  datasets: [
    bars5(ssnvGray, 'rgba(150,150,150,0.8)'),
    bars5(ssnvSlate, 'rgba(120,150,190,0.8)'),
    bars5(ssnvLilac, 'rgba(140,140,230,0.4)'),
    bars5(ssnvBlue, '#1E90FF'),
    bars5(ssnvDeep, 'rgba(60,60,220,0.8)'),
    bars5(ssnvSea, '#3CC67F', 2),
    bars5(ssnvLime, '#00DD00'),
    pieces(ssnvRedDrops, d => [[d[0], 1], [d[0], d[1]]], { borderColor: '#FF3030', borderWidth: 1.5 }),
    pieces(ssnvGreenDrops, d => [[d[0], 1], [d[0], d[1]]], { borderColor: '#00DD00', borderWidth: 1.5 }),
    ...cnLines(5),
    pts5(ssnvGray, '#A8A8A8'),
    pts5(ssnvSlate, '#8FA5BF'),
    pts5(ssnvLilac, 'rgba(150,150,230,0.5)'),
    pts5(ssnvPink, 'rgba(255,90,90,0.55)'),
    pts5(ssnvDeep, '#3535D8'),
    pts5(ssnvBlue, '#1E90FF'),
    pts5(ssnvSea, '#3CC67F'),
    pts5(ssnvLime.slice(0, 1), '#00DD00'),
    pts5(ssnvLime.slice(1), '#00CC00', 5, 'rect'),
    pts5(ssnvRedDrops.map(d => [d[0], 1]), '#FF0000', 4),
    pts5(ssnvGreenDrops.map(d => [d[0], 1]), '#00DD00', 4)
  ] });
label('Copy number', 502, 3185, { rot: true });

// ---- row 5: SSNV densities ----
panel({ l: 1672, r: 1965, t: 2940, b: 3426,
  x: { min: -0.0426, max: 1.0426, ticks: [0, 0.2, 0.4, 0.6, 0.8, 1], fmt: f1, line: [0, 1] },
  y: { min: -0.0788, max: 2.048, ticks: [0, 0.5, 1, 1.5, 2], fmt: f1, line: [0, 2] },
  datasets: [
    straight([[halfPurity, 0], [halfPurity, 2.048]], { borderColor: '#7FDDAA', borderWidth: 1, borderDash: [2, 3] }),
    area(vafOlive, 'rgba(107,142,35,0.58)'),
    area(vafRosy, 'rgba(190,90,110,0.4)'),
    ...vafDark.map(c => line(c, { borderColor: 'rgba(85,120,20,0.9)', borderWidth: 2 })),
    area(vafMagenta, 'rgba(255,0,255,0.55)', { borderColor: '#FF00FF', borderWidth: 1.5 })
  ] });
label('Density', 1620, 3185, { rot: true });
label('Point−mutation VAF', 1816, 3477);
label('α̂/2', 1773, 2925, { color: '#22C86A' });

panel({ l: 2122, r: 2410, t: 2940, b: 3426,
  x: { min: -0.1065, max: 2.56, ticks: [0, 0.5, 1, 1.5, 2, 2.5], fmt: f1, line: [0, 2.5] },
  y: { min: -0.024, max: 0.6257, ticks: [0, 0.1, 0.2, 0.3, 0.4, 0.5, 0.6], fmt: f1, line: [0, 0.6] },
  datasets: [
    ...multLines.map(v => straight([[v, 0], [v, 0.6257]], { borderColor: '#7FDDAA', borderWidth: 1, borderDash: [2, 3] })),
    area(multOlive, 'rgba(107,142,35,0.58)'),
    area(multRosy, 'rgba(190,90,110,0.4)'),
    ...multDark.map(c => line(c, { borderColor: 'rgba(85,120,20,0.9)', borderWidth: 2 })),
    area(multMagenta, 'rgba(255,0,255,0.55)', { borderColor: '#FF00FF', borderWidth: 1.5 })
  ] });
label('Density', 2068, 3185, { rot: true });
label('Point−mutation multiplicity', 2267, 3477);

panel({ l: 2571, r: 2860, t: 2940, b: 3421,
  x: { min: -0.0392, max: 1.0296, ticks: [0, 0.2, 0.4, 0.6, 0.8, 1], fmt: f1, line: [0, 1] },
  y: { min: -0.0277, max: 0.7807, ticks: [0, 0.2, 0.4, 0.6], fmt: f1, line: [0, 0.6] },
  datasets: [
    ...ssnvCcfGray.map(c => line(c, { borderColor: '#A9B0BC', borderWidth: 2 })),
    straight([[0.997, 0], [0.997, 0.745]], { borderColor: '#A9A9A9', borderWidth: 2 }),
    area(ssnvCcfCoral, 'rgba(240,120,80,0.9)'),
    line(ssnvCcfDashDot, { borderColor: '#F07850', borderWidth: 2.5, borderDash: [10, 5, 2, 5] }),
    line(ssnvCcfSlate, { borderColor: '#483D8B', borderWidth: 2.5, borderDash: [3, 3] }),
    ...ssnvCcfBlue.map(c => line(c, { borderColor: '#1E90FF', borderWidth: 2 })),
    line(ssnvCcfBrown, { borderColor: '#C0583F', borderWidth: 2 }),
    line(ssnvCcfSea, { borderColor: '#3CC67F', borderWidth: 2 }),
    ...ssnvCcfPurple.map(c => line(c, { borderColor: '#4B3A99', borderWidth: 2 }))
  ] });
label('Density', 2521, 3185, { rot: true });
label('CCF', 2720, 3477);
[['Clonal SSNVs', '#3CC67F'], ['Subclonal SSNVs', '#A8A8A8'], ['Clonal SSNVs on subc', '#1E90FF'], ['Subclonal SSNVs on s', '#45C585']]
  .forEach(([t, c], i) => { const y = [2971, 2996, 3021, 3047][i]; key(2590, 2628, y, c, 'solid', 5); label(t, 2647, y, { left: true }); });

panel({ l: 3020, r: 3310, t: 2940, b: 3421,
  x: { min: -0.0459, max: 1.0266, ticks: [0, 0.2, 0.4, 0.6, 0.8, 1], fmt: f1, line: [0, 1] },
  y: { min: -0.01536, max: 0.4325, ticks: [0, 0.1, 0.2, 0.3, 0.4], fmt: f1, line: [0, 0.4] },
  datasets: [
    ...subCcfGreenLines.map(c => line(c, { borderColor: '#00CC00', borderWidth: 2 })),
    ...subCcfRed.map(c => line(c, { borderColor: '#FF0000', borderWidth: 2 })),
    ...subCcfRed.slice(0, 3).map(c => line(c, { borderColor: '#000', borderWidth: 1.5, borderDash: [2, 4] })),
    ...subCcfPurple.map(c => line(c, { borderColor: '#5A1A8A', borderWidth: 2 })),
    line(subCcfGreen, { borderColor: '#00A000', borderWidth: 2 }),
    line(subCcfGreen, { borderColor: '#000', borderWidth: 2, borderDash: [2, 4] })
  ] });
label('Density', 2970, 3185, { rot: true });
label('CCF', 3170, 3477);
label('SSNVs on subclonal SCNAs', 3158, 2933);
[['H1: Ancestral SSNV in', '#FF0000', 'solid'], ['H2: Ancestral SSNV in', '#00CC00', 'solid'], ['H3: Derived SSNV', '#0000FF', 'solid'], ['Subclonal deletion SC', '#000', 'dotted']]
  .forEach(([t, c, s], i) => { const y = [2972, 2996, 3021, 3047][i]; key(3039, 3080, y, c, s, 5); label(t, 3097, y, { left: true }); });
</script>
</body>
</html>
